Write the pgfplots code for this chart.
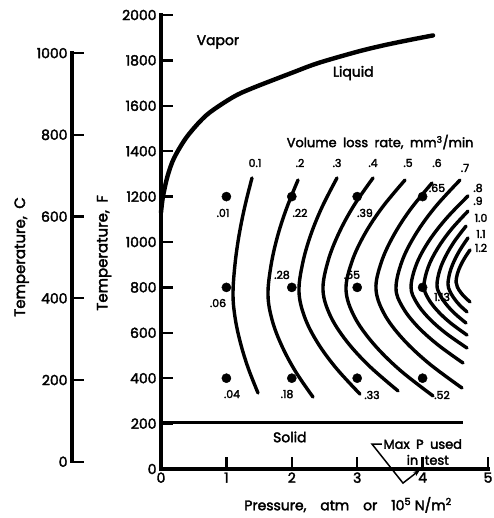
\documentclass[border=0pt]{standalone}
\usepackage{fontspec}
\setmainfont{Poppins}[FakeBold=2.5]
\usepackage{pgfplots}
\pgfplotsset{compat=1.18}
\usetikzlibrary{arrows.meta}
\newcommand{\fs}[1]{\fontsize{#1}{#1}\selectfont}
\begin{document}
\begin{tikzpicture}[x=1bp,y=1bp]
\useasboundingbox (-161,-49) rectangle (333,469);
% Celsius axis
\begin{axis}[at={(-89bp,7.264bp)}, anchor=south west, scale only axis,
  width=1bp, height=408.6bp, xmin=0, xmax=1, ymin=0, ymax=1000,
  hide x axis, axis y line*=left, tick align=inside,
  ytick={0,200,...,1000}, major tick length=12bp,
  axis line style={line width=3.4bp, line cap=rect},
  major tick style={line width=2.4bp, black},
  /pgf/number format/1000 sep={}, /pgf/number format/assume math mode=true,
  yticklabel style={font=\fs{14}, xshift=-1bp}]
\addplot[draw=none] coordinates {(0,0)};
\end{axis}
% main axis
\begin{axis}[at={(0,0)}, anchor=south west, scale only axis,
  width=327bp, height=454bp, xmin=0, xmax=5, ymin=0, ymax=2000,
  axis lines*=left, tick align=inside, clip=false,
  xtick={0,1,2,3,4,5}, ytick={0,200,...,2000}, major tick length=12bp,
  axis line style={line width=3.4bp, line cap=rect},
  major tick style={line width=2.4bp, black},
  /pgf/number format/1000 sep={}, /pgf/number format/assume math mode=true,
  ticklabel style={font=\fs{14}},
  yticklabel style={xshift=-1bp}]
% phase boundary
\addplot[line width=4.4bp, smooth, line cap=round] coordinates {
 (0,1130) (0.03,1200) (0.1,1290) (0.2,1370) (0.4,1465) (0.7,1560) (1.1,1638)
 (1.4,1678) (2.0,1745) (2.4,1788) (3.0,1838) (3.4,1866) (3.8,1890) (4.16,1910)};
% solid line
\addplot[line width=3.4bp] coordinates {(0,205) (4.62,205)};
% contours
\pgfplotsset{cont/.style={line width=3.4bp, smooth, tension=0.6, line cap=round}}
\addplot[cont] coordinates {(1.391,1282) (1.279,1153) (1.190,1024) (1.129,895) (1.101,766) (1.137,659) (1.219,551) (1.335,443) (1.483,335)};
\addplot[cont] coordinates {(2.095,1273) (1.917,1146) (1.777,1020) (1.680,893) (1.636,766) (1.701,654) (1.848,542) (2.058,429) (2.324,317)};
\addplot[cont] coordinates {(2.691,1282) (2.466,1156) (2.289,1031) (2.165,905) (2.110,780) (2.199,667) (2.397,555) (2.682,443) (3.043,330)};
\addplot[cont] coordinates {(3.242,1282) (2.946,1159) (2.713,1035) (2.550,912) (2.477,788) (2.586,677) (2.830,566) (3.180,455) (3.624,344)};
\addplot[cont] coordinates {(3.731,1273) (3.382,1152) (3.107,1031) (2.915,910) (2.829,788) (2.955,672) (3.239,555) (3.644,438) (4.159,322)};
\addplot[cont] coordinates {(4.144,1260) (3.812,1143) (3.551,1026) (3.368,910) (3.287,793) (3.412,684) (3.692,575) (4.093,466) (4.602,357)};
\addplot[cont] coordinates {(4.572,1273) (4.193,1154) (3.895,1035) (3.686,916) (3.593,797) (3.690,715) (3.909,632) (4.221,550) (4.618,467)};
\addplot[cont] coordinates {(4.694,1203) (4.357,1102) (4.091,1002) (3.906,902) (3.823,802) (3.904,735) (4.087,667) (4.348,600) (4.679,533)};
\addplot[cont] coordinates {(4.694,1136) (4.434,1054) (4.228,971) (4.085,889) (4.021,806) (4.084,752) (4.224,698) (4.424,644) (4.679,590)};
\addplot[cont] coordinates {(4.664,1070) (4.492,1005) (4.357,940) (4.262,876) (4.220,811) (4.262,769) (4.357,727) (4.492,685) (4.664,643)};
\addplot[cont] coordinates {(4.694,1018) (4.576,967) (4.482,916) (4.417,866) (4.388,815) (4.416,784) (4.478,753) (4.566,722) (4.679,692)};
\addplot[cont] coordinates {(4.725,965) (4.642,929) (4.577,894) (4.531,859) (4.511,824) (4.531,802) (4.577,780) (4.642,758) (4.725,736)};
% data points
\addplot[only marks, mark=*, mark size=4.6bp, black] coordinates {
 (1,1200) (1,800) (1,400) (2,1200) (2,800) (2,400)
 (3,1200) (3,800) (3,400) (4,1200) (4,800) (4,400)};
% region labels
\node[font=\fs{14}] at (axis cs:0.87,1881) {Vapor};
\node[font=\fs{14}] at (axis cs:2.94,1744) {Liquid};
\node[font=\fs{14}] at (axis cs:1.97,141) {Solid};
\node[font=\fs{13}] at (axis cs:3.35,1440) {Volume\enspace loss\enspace rate,\enspace mm\textsuperscript{3}/min};
% contour labels
\begin{scope}[every node/.style={font=\fs{11}, inner sep=0pt}]
\node at (axis cs:1.437,1348) {0.1};
\node at (axis cs:2.125,1348) {.2};
\node at (axis cs:2.691,1348) {.3};
\node at (axis cs:3.242,1348) {.4};
\node at (axis cs:3.777,1348) {.5};
\node at (axis cs:4.220,1348) {.6};
\node at (axis cs:4.648,1326) {.7};
\node at (axis cs:4.847,1238) {.8};
\node at (axis cs:4.847,1181) {.9};
\node at (axis cs:4.893,1106) {1.0};
\node at (axis cs:4.893,1035) {1.1};
\node at (axis cs:4.893,974) {1.2};
% data labels
\node at (axis cs:0.948,1128) {.01};
\node at (axis cs:2.125,1128) {.22};
\node at (axis cs:3.119,1128) {.39};
\node at (axis cs:4.220,1238) {.65};
\node at (axis cs:0.872,731) {.06};
\node at (axis cs:1.850,855) {.28};
\node at (axis cs:2.920,855) {.55};
\node at (axis cs:4.297,758) {1.13};
\node at (axis cs:1.086,330) {.04};
\node at (axis cs:1.927,330) {.18};
\node at (axis cs:3.226,326) {.33};
\node at (axis cs:4.297,326) {.52};
\end{scope}
% max P annotation
\node[font=\fs{13}, anchor=west, inner sep=0pt] at (axis cs:3.40,110) {Max\enspace P\enspace used};
\node[font=\fs{13}, inner sep=0pt] at (axis cs:4.08,40) {in\enspace test};
\draw[line width=1.5bp, -{Stealth[length=7bp,width=5bp]}] (axis cs:3.379,110) -- (axis cs:3.226,110) -- (axis cs:3.700,-62) -- (axis cs:3.960,-4);
% axis labels
\node[font=\fs{14}] at (axis cs:2.86,-158) {Pressure,\quad atm\quad or\quad 10\textsuperscript{5} N/m\textsuperscript{2}};
\node[font=\fs{15}, rotate=90] at (axis cs:-0.87,952) {Temperature,\enspace F};
\node[font=\fs{15}, rotate=90] at (axis cs:-2.13,934) {Temperature,\enspace C};
\end{axis}
\end{tikzpicture}
\end{document}
